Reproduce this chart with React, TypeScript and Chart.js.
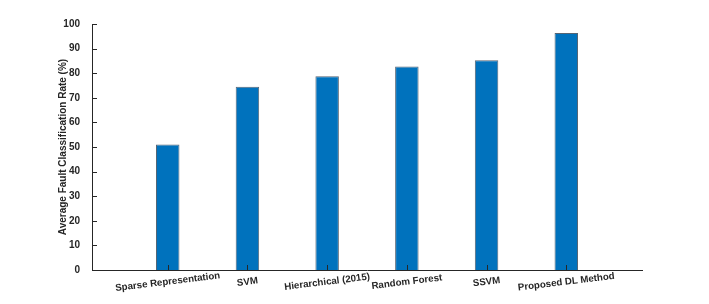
import React, { useEffect, useRef } from "react";
import { Chart, registerables } from "chart.js";

Chart.register(...registerables);

const categories = [
  "Sparse Representation",
  "SVM",
  "Hierarchical (2015)",
  "Random Forest",
  "SSVM",
  "Proposed DL Method",
];
const rates = [51.0, 74.5, 78.8, 82.7, 85.3, 96.3];
const yTicks = [0, 10, 20, 30, 40, 50, 60, 70, 80, 90, 100];

const TEXT = "#262626";
const FONT = "'Liberation Sans', Arial, Helvetica, sans-serif";

const inwardTicks = {
  id: "inwardTicks",
  afterDatasetsDraw(chart: any) {
    const { ctx, chartArea } = chart;
    const x = chart.scales.x;
    const y = chart.scales.y;
    ctx.save();
    ctx.strokeStyle = TEXT;
    ctx.lineWidth = 1;
    ctx.beginPath();
    for (const v of yTicks) {
      const py = Math.round(y.getPixelForValue(v)) + 0.5;
      ctx.moveTo(chartArea.left, py);
      ctx.lineTo(chartArea.left + 5, py);
    }
    categories.forEach((_, i) => {
      const px = Math.round(x.getPixelForValue(i)) + 0.5;
      ctx.moveTo(px, chartArea.bottom);
      ctx.lineTo(px, chartArea.bottom - 5);
    });
    ctx.stroke();
    ctx.restore();
  },
  afterDraw(chart: any) {
    const { ctx, chartArea } = chart;
    const x = chart.scales.x;
    ctx.save();
    ctx.fillStyle = TEXT;
    ctx.font = `bold 9.7px ${FONT}`;
    ctx.textAlign = "center";
    ctx.textBaseline = "middle";
    categories.forEach((c, i) => {
      const px = x.getPixelForValue(i);
      ctx.save();
      ctx.translate(px, chartArea.bottom + 12);
      ctx.rotate((-7 * Math.PI) / 180);
      ctx.fillText(c, 0, 0);
      ctx.restore();
    });
    ctx.restore();
  },
};

export default function App() {
  const ref = useRef<HTMLCanvasElement>(null);
  useEffect(() => {
    if (!ref.current) return;
    const chart = new Chart(ref.current, {
      type: "bar",
      data: {
        datasets: [
          {
            data: rates.map((v, i) => ({ x: i, y: v })),
            backgroundColor: "#0072BD",
            borderColor: "rgba(30,50,70,0.75)",
            borderWidth: 1,
            barPercentage: 0.31,
            categoryPercentage: 1,
          },
        ],
      },
      options: {
        responsive: false,
        animation: false,
        events: [],
        layout: { padding: { top: 24, right: 67, left: 57, bottom: 0 } },
        plugins: { legend: { display: false }, tooltip: { enabled: false } },
        scales: {
          x: {
            type: "linear",
            min: -0.95,
            max: 5.95,
            offset: false,
            grid: { display: false },
            border: { display: true, color: TEXT, width: 1 },
            ticks: { display: false },
            afterFit: (s: any) => {
              s.height = 34;
            },
          },
          y: {
            min: 0,
            max: 100,
            grid: { display: false },
            border: { display: true, color: TEXT, width: 1 },
            ticks: {
              stepSize: 10,
              color: TEXT,
              padding: 4,
              font: { family: FONT, size: 10, weight: "bold" },
            },
            title: {
              display: true,
              text: "Average Fault Classification Rate (%)",
              color: TEXT,
              padding: { top: 0, bottom: 0 },
              font: { family: FONT, size: 10, weight: "bold" },
            },
            afterFit: (s: any) => {
              s.width = 35;
            },
          },
        },
      },
      plugins: [inwardTicks],
    });
    return () => chart.destroy();
  }, []);
  return (
    <div style={{ position: "fixed", left: 0, top: 0, width: 709, height: 304, background: "#fff" }}>
      <canvas ref={ref} width={709} height={304} />
    </div>
  );
}
